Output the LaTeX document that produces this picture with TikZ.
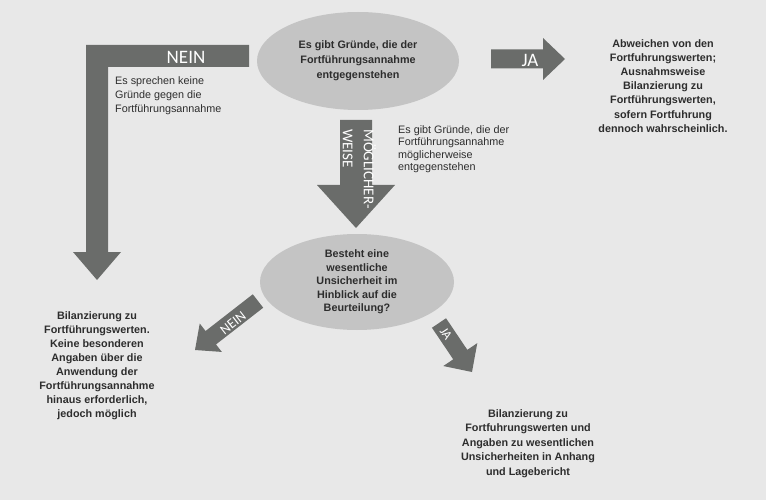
\documentclass[tikz,border=0pt]{standalone}
\usepackage{fontspec}
\setmainfont{Liberation Sans}
\newfontfamily\labfont{Carlito}
\usetikzlibrary{calc,shapes.geometric}
\definecolor{bgc}{RGB}{232,232,232}
\definecolor{ellc}{RGB}{196,196,196}
\definecolor{arrc}{RGB}{106,108,106}
\definecolor{txc}{RGB}{45,45,45}
\newcommand\blockarr[5]{%
  \coordinate (hb) at ($(#2)!#5!(#1)$);
  \fill[arrc] ($(#1)!#3!90:(#2)$) -- ($(hb)!#3!90:(#2)$) -- ($(hb)!#4!90:(#2)$) -- (#2)
    -- ($(hb)!#4!-90:(#2)$) -- ($(hb)!#3!-90:(#2)$) -- ($(#1)!#3!-90:(#2)$) -- cycle;}
\tikzset{
  ell/.style={ellipse, fill=ellc, inner sep=0pt, text=txc, align=center},
  boldtxt/.style={text=txc, align=center, inner sep=0pt},
  regtxt/.style={text=txc, align=left, inner sep=0pt},
  lab/.style={text=white, inner sep=0pt},
}
\begin{document}
\begin{tikzpicture}[x=1pt,y=-1pt]
\fill[bgc] (0,0) rectangle (766,500);
\useasboundingbox (0,0) rectangle (766,500);

% ellipses
\node[ell, minimum width=202pt, minimum height=98pt, font=\fontsize{10.8}{15}\selectfont\bfseries] (top) at (358,61)
  {Es gibt Gründe, die der\\Fortführungsannahme\\entgegenstehen};
\node[ell, minimum width=194pt, minimum height=96pt, font=\fontsize{10.8}{13.5}\selectfont\bfseries] (mid) at (357,282)
  {Besteht eine\\wesentliche\\Unsicherheit im\\Hinblick auf die\\Beurteilung?};

% text blocks
\node[regtxt, anchor=north west, font=\fontsize{10.8}{14}\selectfont] (tnein) at (115,76)
  {Es sprechen keine\\Gründe gegen die\\Fortführungsannahme};
\node[regtxt, anchor=north west, font=\fontsize{10.8}{12.6}\selectfont] (tmoeg) at (398,125)
  {Es gibt Gründe, die der\\Fortführungsannahme\\möglicherweise\\entgegenstehen};
\node[boldtxt, anchor=north, font=\fontsize{10.8}{14.2}\selectfont\bfseries] (tja) at (663,39)
  {Abweichen von den\\Fortfuhrungswerten;\\Ausnahmsweise\\Bilanzierung zu\\Fortführungswerten,\\sofern Fortfuhrung\\dennoch wahrscheinlich.};
\node[boldtxt, anchor=north, font=\fontsize{10.8}{14}\selectfont\bfseries] (tleft) at (97,311)
  {Bilanzierung zu\\Fortführungswerten.\\Keine besonderen\\Angaben über die\\Anwendung der\\Fortführungsannahme\\hinaus erforderlich,\\jedoch möglich};
\node[boldtxt, anchor=north, font=\fontsize{10.8}{14.5}\selectfont\bfseries] (tright) at (528,409)
  {Bilanzierung zu\\Fortfuhrungswerten und\\Angaben zu wesentlichen\\Unsicherheiten in Anhang\\und Lagebericht};

% L-shaped arrow (NEIN)
\coordinate (nS) at (249,56);
\coordinate (nK) at (97,56);
\coordinate (nT) at (97,280);
\fill[arrc] ($(nS)+(0,-11)$) -- ($(nK)+(-11,-11)$) -- ($(nT)+(-11,-28)$) -- ($(nT)+(-24,-28)$) -- (nT)
  -- ($(nT)+(24,-28)$) -- ($(nT)+(11,-28)$) -- ($(nK)+(11,11)$) -- ($(nS)+(0,11)$) -- cycle;
\node[lab, font=\labfont\fontsize{19}{19}\selectfont] (lnein) at (186,57) {NEIN};

% JA right
\coordinate (jS) at (491,59);
\coordinate (jT) at (565,59);
\blockarr{jS}{jT}{9.5pt}{21pt}{22pt}
\node[lab, font=\labfont\fontsize{19}{19}\selectfont] (lja) at (530,60) {JA};

% MOEGLICHERWEISE down
\coordinate (mS) at (356,120);
\coordinate (mT) at (356,228);
\blockarr{mS}{mT}{16pt}{39pt}{43pt}
\node[lab, font=\labfont\fontsize{15}{21}\selectfont, rotate=-90, anchor=north west, align=left] (lmoeg) at (376,129)
  {MÖGLICHER-\\WEISE};

% NEIN diagonal
\coordinate (dnS) at (258,301);
\coordinate (dnT) at (195,350);
\blockarr{dnS}{dnT}{8.5pt}{18pt}{20pt}
\node[lab, font=\labfont\fontsize{14}{14}\selectfont, rotate=38] (ldn) at (233,323) {NEIN};

% JA diagonal
\coordinate (djS) at (439,323);
\coordinate (djT) at (472,372);
\blockarr{djS}{djT}{8.5pt}{20.5pt}{21pt}
\node[lab, font=\labfont\fontsize{13}{13}\selectfont, rotate=-56] (ldj) at (446,334) {JA};
\end{tikzpicture}
\end{document}
